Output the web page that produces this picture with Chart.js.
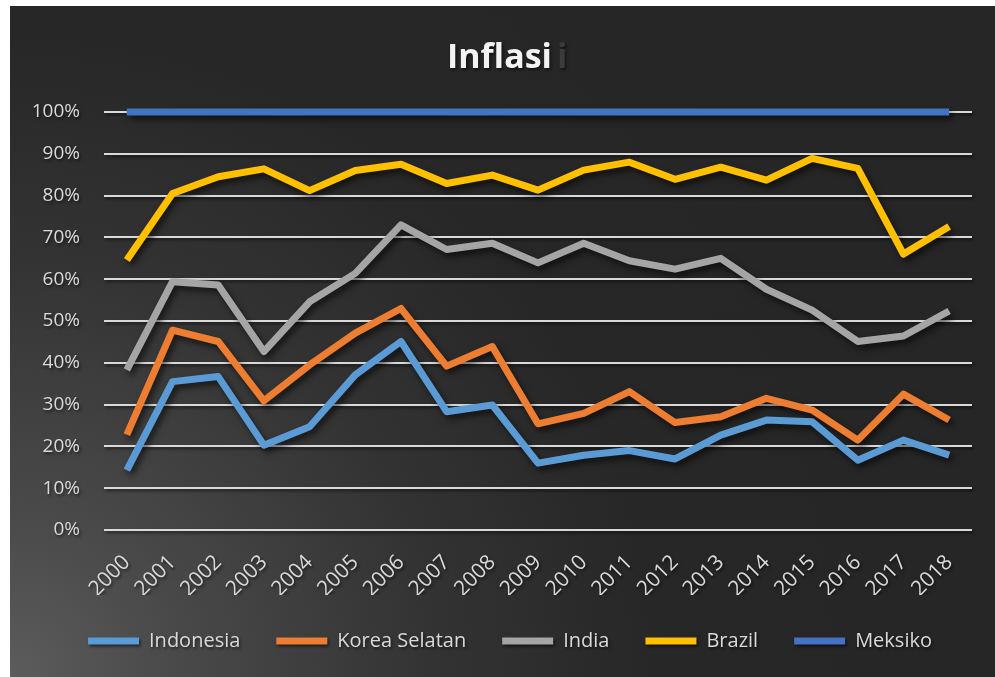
<!DOCTYPE html>
<html>
<head>
<meta charset="utf-8">
<title>Inflasi</title>
<script src="https://cdn.jsdelivr.net/npm/chart.js@4.4.0/dist/chart.umd.min.js"></script>
<style>
  body { margin: 0; background: #ffffff; }
  #wrap {
    position: absolute; left: 10px; top: 6px; width: 985px; height: 671px;
    background: radial-gradient(circle at 0% 100%, #5c5c5c 0px, #4a4a4a 160px, #333333 420px, #272727 640px, #262626 900px);
  }
</style>
</head>
<body>
<div id="wrap"><canvas id="inflasi-chart" width="985" height="671"></canvas></div>
<script>
const years = ["2000", "2001", "2002", "2003", "2004", "2005", "2006", "2007", "2008", "2009",
  "2010", "2011", "2012", "2013", "2014", "2015", "2016", "2017", "2018"];

// values in percent
const indonesia = [14.3, 35.5, 36.7, 20.3, 24.7, 37.1, 45.1, 28.3, 29.9, 16.0,
  17.9, 19.0, 17.0, 22.7, 26.3, 25.9, 16.7, 21.5, 17.9];
const koreaSelatan = [22.8, 47.8, 45.1, 30.9, 39.5, 47.1, 53.0, 39.2, 43.9, 25.4,
  27.9, 33.1, 25.7, 27.1, 31.5, 28.7, 21.5, 32.5, 26.3];
const india = [38.3, 59.4, 58.6, 42.7, 54.6, 61.4, 73.0, 67.1, 68.6, 63.9,
  68.6, 64.4, 62.4, 65.0, 57.6, 52.6, 45.1, 46.4, 52.4];
const brazil = [64.6, 80.5, 84.5, 86.4, 81.2, 86.0, 87.5, 82.9, 84.9, 81.3,
  86.1, 88.0, 83.9, 86.8, 83.7, 88.9, 86.5, 66.0, 72.6];
const meksiko = [100, 100, 100, 100, 100, 100, 100, 100, 100, 100,
  100, 100, 100, 100, 100, 100, 100, 100, 100];

const seriesNames = ["Indonesia", "Korea Selatan", "India", "Brazil", "Meksiko"];
const seriesColors = ["#5b9bd5", "#ed7d31", "#a5a5a5", "#ffc000", "#4472c4"];
const yTicks = [0, 10, 20, 30, 40, 50, 60, 70, 80, 90, 100];

const fontName = "'Open Sans', 'Noto Sans', sans-serif";

function makeSet(i, values) {
  return {
    label: seriesNames[i],
    data: values,
    borderColor: seriesColors[i],
    backgroundColor: seriesColors[i],
    borderWidth: 7,
    borderCapStyle: "butt",
    borderJoinStyle: "round",
    pointRadius: 0,
    pointHoverRadius: 0,
    tension: 0,
    fill: false,
    clip: false,
  };
}

// excel-like drop shadows and the title
const excelLook = {
  id: "excelLook",
  afterLayout(chart) {
    // let the y labels reach past the narrow axis box (they get clipped otherwise)
    chart.scales.y.left = 0;
  },
  beforeDraw(chart) {
    const c = chart.ctx;
    c.save();
    c.shadowColor = "rgba(0,0,0,0.55)";
    c.shadowBlur = 3;
    c.shadowOffsetX = 1.5;
    c.shadowOffsetY = 2;
  },
  beforeDatasetsDraw(chart) {
    const c = chart.ctx;
    c.save();
    c.shadowColor = "rgba(0,0,0,0.6)";
    c.shadowBlur = 6;
    c.shadowOffsetX = 3;
    c.shadowOffsetY = 4;
  },
  afterDatasetsDraw(chart) {
    chart.ctx.restore();
  },
  afterDraw(chart) {
    const c = chart.ctx;
    c.font = "bold 34px " + fontName;
    c.textAlign = "left";
    c.textBaseline = "alphabetic";
    c.fillStyle = "#f2f2f2";
    c.fillText("Inflasi", 437, 62);
    c.fillStyle = "#3b3b3b";
    c.fillText("i", 547, 62);
    c.restore();
  },
};

new Chart("inflasi-chart", {
  type: "line",
  data: {
    labels: years,
    datasets: [
      makeSet(0, indonesia),
      makeSet(1, koreaSelatan),
      makeSet(2, india),
      makeSet(3, brazil),
      makeSet(4, meksiko),
    ],
  },
  options: {
    responsive: false,
    animation: false,
    layout: { padding: { left: 38, right: 23, top: 106, bottom: 16 } },
    plugins: {
      title: { display: false },
      tooltip: { enabled: false },
      legend: {
        position: "bottom",
        labels: {
          boxWidth: 51,
          boxHeight: 7,
          padding: 36,
          color: "#d9d9d9",
          font: { family: fontName, size: 20 },
          generateLabels: function (chart) {
            const items = Chart.defaults.plugins.legend.labels.generateLabels(chart);
            items.forEach((it) => {
              it.lineWidth = 0;
              it.fillStyle = it.strokeStyle;
            });
            return items;
          },
        },
      },
    },
    scales: {
      x: {
        offset: true,
        grid: { display: false, drawTicks: false },
        border: { display: false },
        ticks: {
          autoSkip: false,
          maxRotation: 45,
          minRotation: 45,
          padding: 20,
          color: "#d9d9d9",
          font: { family: fontName, size: 21 },
        },
        afterFit: function (scale) {
          scale.height = 65;
          scale.paddingLeft = 0;
          scale.paddingRight = 0;
        },
      },
      y: {
        min: 0,
        max: 100,
        afterBuildTicks: function (scale) {
          scale.ticks = yTicks.map((v) => ({ value: v }));
        },
        grid: { color: "#d9d9d9", lineWidth: 2, drawTicks: false },
        border: { display: false },
        ticks: {
          padding: 24,
          color: "#d9d9d9",
          font: { family: fontName, size: 19 },
          callback: function (v) { return v + "%"; },
        },
        afterFit: function (scale) {
          scale.width = 56;
        },
      },
    },
  },
  plugins: [excelLook],
});
</script>
</body>
</html>
